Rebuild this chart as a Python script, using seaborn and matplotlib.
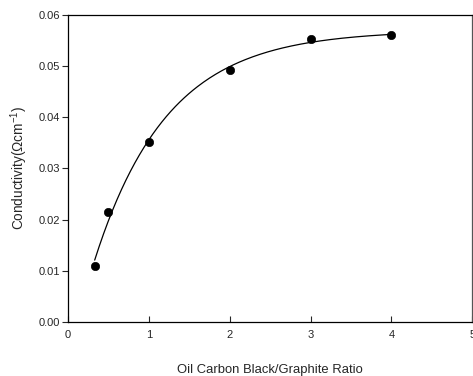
import numpy as np
import pandas as pd
import matplotlib
matplotlib.use("Agg")
import matplotlib.pyplot as plt
import seaborn as sns

# data
ratio = [0.33, 0.5, 1.0, 2.0, 3.0, 4.0]
conductivity = [0.0110, 0.0214, 0.0352, 0.0491, 0.0552, 0.0561]
x_ticks = [0, 1, 2, 3, 4, 5]
y_ticks = [0.00, 0.01, 0.02, 0.03, 0.04, 0.05, 0.06]

sns.set_style("ticks")
plt.rcParams['font.family'] = ['Liberation Sans', 'DejaVu Sans']
plt.rcParams['mathtext.default'] = 'regular'

df = pd.DataFrame({"ratio": ratio, "cond": conductivity})

# exponential rise-to-maximum regression (y = y0 + a(1-exp(-b x)))
xs = np.array(ratio)
ys = np.array(conductivity)
best = None
for b in np.linspace(0.1, 5, 2000):
    A = np.column_stack([np.ones_like(xs), 1 - np.exp(-b * xs)])
    coef, res, *_ = np.linalg.lstsq(A, ys, rcond=None)
    err = np.sum((A @ coef - ys) ** 2)
    if best is None or err < best[0]:
        best = (err, b, coef)
_, bb, cc = best
xf = np.linspace(min(ratio), max(ratio), 200)
fit = pd.DataFrame({"ratio": xf, "cond": cc[0] + cc[1] * (1 - np.exp(-bb * xf))})

fig = plt.figure(figsize=(4.73, 3.76), dpi=100)
ax = fig.add_axes([0.1438, 0.1436, 0.8545, 0.8175])

sns.lineplot(data=fit, x="ratio", y="cond", ax=ax, color="black", linewidth=0.9)
sns.scatterplot(data=df, x="ratio", y="cond", ax=ax, color="black", s=36,
                edgecolor="black", zorder=3)

ax.set_xlim(0, 5)
ax.set_ylim(0, 0.06)
ax.set_xticks(x_ticks)
ax.set_yticks(y_ticks)
ax.set_xticklabels([str(t) for t in x_ticks])
ax.set_yticklabels([f"{t:.2f}" for t in y_ticks])
ax.tick_params(axis='x', direction='in', length=4, width=0.8, labelsize=8, pad=6)
ax.tick_params(axis='y', direction='out', length=4, width=0.8, labelsize=8, pad=2)
for s in ax.spines.values():
    s.set_linewidth(0.9)
    s.set_color("black")
ax.spines['right'].set_color("#555555")

ax.set_xlabel("Oil Carbon Black/Graphite Ratio", fontsize=9.4, labelpad=17)
ax.set_ylabel("Conductivity(Ωcm$^{-1}$)", fontsize=9.8, labelpad=6)

fig.savefig("out.png", dpi=100)
